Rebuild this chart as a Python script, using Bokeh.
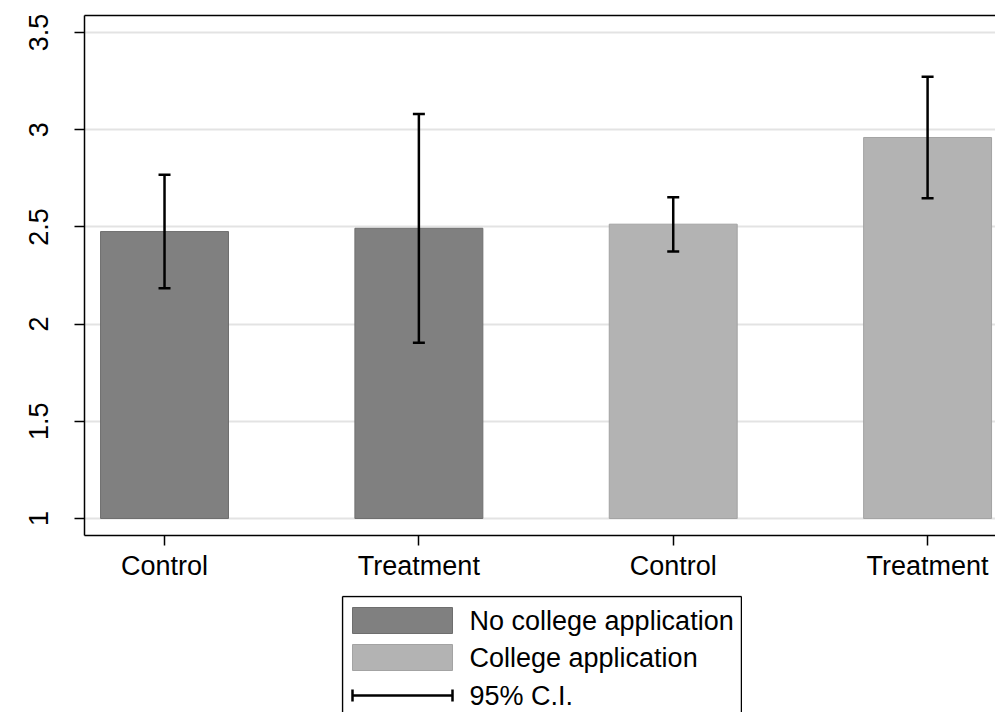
from bokeh.plotting import figure
from bokeh.models import (ColumnDataSource, Whisker, TeeHead, FixedTicker, LinearAxis,
                          Range1d, Spacer)
from bokeh.layouts import column, row
from bokeh.core.properties import value
from bokeh.embed import file_html
from bokeh.resources import INLINE

# ---------------- data ----------------
categories = ["Control", "Treatment", "Control", "Treatment"]
groups = ["No college application", "No college application",
          "College application", "College application"]
means = [2.476, 2.493, 2.514, 2.960]
ci_low = [2.184, 1.904, 2.373, 2.648]
ci_high = [2.768, 3.081, 2.653, 3.272]
y_ticks = [1, 1.5, 2, 2.5, 3, 3.5]
y_tick_labels = ["1", "1.5", "2", "2.5", "3", "3.5"]
legend_labels = ["No college application", "College application", "95% C.I."]
group_colors = {"No college application": "#808080", "College application": "#b3b3b3"}
group_lines = {"No college application": "#6e6e6e", "College application": "#a3a3a3"}
baseline = 1

FONT = "Liberation Sans"
FS = "27px"

xs = list(range(len(categories)))
src = ColumnDataSource(dict(
    x=xs, top=means, lower=ci_low, upper=ci_high,
    fill=[group_colors[g] for g in groups],
    line=[group_lines[g] for g in groups],
))

p = figure(width=995, height=595, output_backend="svg", toolbar_location=None,
           x_range=Range1d(-0.3146, 3.267), y_range=Range1d(0.9124, 3.5876),
           min_border_left=84, min_border_right=0, min_border_top=15, min_border_bottom=60)
p.outline_line_color = None
p.background_fill_color = "white"
p.border_fill_color = "white"

p.vbar(x="x", top="top", bottom=baseline, width=0.503, source=src,
       fill_color="fill", line_color="line", line_width=1)

w = Whisker(base="x", lower="lower", upper="upper", source=src,
            line_color="black", line_width=2.5, level="overlay",
            upper_head=TeeHead(size=12, line_width=2.5, line_color="black"),
            lower_head=TeeHead(size=12, line_width=2.5, line_color="black"))
p.add_layout(w)

# grid
p.xgrid.visible = False
p.ygrid.ticker = FixedTicker(ticks=y_ticks)
p.ygrid.grid_line_color = "#e3e3e3"
p.ygrid.grid_line_width = 2

# x axis
xa = p.xaxis[0]
xa.ticker = FixedTicker(ticks=xs)
xa.major_label_overrides = {i: c for i, c in zip(xs, categories)}
xa.major_tick_out = 10
xa.major_tick_in = 0
xa.minor_tick_line_color = None
xa.axis_line_width = 1.5
xa.axis_line_color = "black"
xa.major_tick_line_color = "black"
xa.major_tick_line_width = 1.5
xa.major_label_text_font = FONT
xa.major_label_text_font_size = FS
xa.major_label_text_color = "black"
xa.major_label_standoff = 5

# y axis
ya = p.yaxis[0]
ya.ticker = FixedTicker(ticks=y_ticks)
ya.major_label_overrides = {t: l for t, l in zip(y_ticks, y_tick_labels)}
ya.major_label_orientation = "vertical"
ya.major_tick_out = 10
ya.major_tick_in = 0
ya.minor_tick_line_color = None
ya.axis_line_width = 1.5
ya.axis_line_color = "black"
ya.major_tick_line_color = "black"
ya.major_tick_line_width = 1.5
ya.major_label_text_font = FONT
ya.major_label_text_font_size = FS
ya.major_label_text_color = "black"
ya.major_label_standoff = 26

# top border line
top_axis = LinearAxis(ticker=FixedTicker(ticks=[]), axis_line_color="black",
                      axis_line_width=1.5, major_tick_line_color=None,
                      minor_tick_line_color=None, major_label_text_font_size="0px",
                      major_label_standoff=0)
p.add_layout(top_axis, "above")

# ---------------- legend panel ----------------
LW, LH = 401, 117
lg = figure(width=LW, height=LH, output_backend="svg", toolbar_location=None,
            x_range=Range1d(0, LW), y_range=Range1d(LH, 0),
            min_border=0)
lg.axis.visible = False
lg.grid.visible = False
lg.outline_line_color = None
# legend box border (bottom edge lies below the visible page)
lg.segment(x0=[1, 1, LW - 1], y0=[LH + 5, 1, 1], x1=[1, LW - 1, LW - 1], y1=[1, 1, LH + 5],
           line_color="black", line_width=1.5)

swatch_groups = ["No college application", "College application"]
lg.quad(left=[11, 11], right=[111, 111], top=[12, 49], bottom=[38, 75],
        fill_color=[group_colors[g] for g in swatch_groups],
        line_color=[group_lines[g] for g in swatch_groups], line_width=1)
lg.segment(x0=[11], y0=[100], x1=[111], y1=[100], line_color="black", line_width=2.5)
lg.segment(x0=[11, 111], y0=[94, 94], x1=[11, 111], y1=[106, 106],
           line_color="black", line_width=2.5)
lg.text(x=[128, 128, 128], y=[25, 62, 100], text=legend_labels,
        text_font=value(FONT), text_font_size=value(FS),
        text_baseline="middle", text_align="left", text_color="black")

layout = column(p, row(Spacer(width=341, height=LH), lg), spacing=0)

open("out.html", "w").write(file_html(layout, INLINE))
